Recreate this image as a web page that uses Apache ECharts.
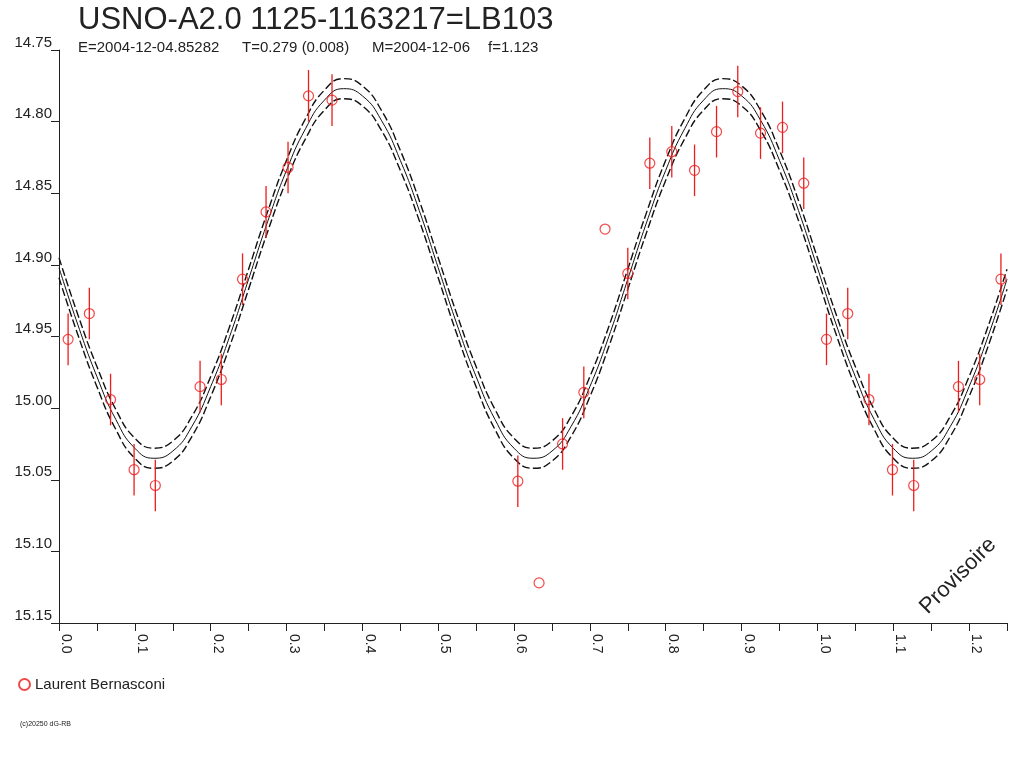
<!DOCTYPE html>
<html>
<head>
<meta charset="utf-8">
<title>USNO-A2.0 1125-1163217=LB103</title>
<script src="https://cdn.jsdelivr.net/npm/echarts@6/dist/echarts.min.js"></script>
<style>
  html, body { margin: 0; padding: 0; background: #fff; }
  #chart { width: 1024px; height: 768px; }
</style>
</head>
<body>
<div id="chart"></div>
<script>
const obsPhase = [0.012, 0.040, 0.068, 0.099, 0.127, 0.186, 0.214, 0.242, 0.273, 0.302, 0.329, 0.360,
                  0.605, 0.633, 0.664, 0.692, 0.720, 0.750, 0.779, 0.808, 0.838, 0.867, 0.895, 0.925, 0.954, 0.982]
const obsMag = [14.952, 14.934, 14.994, 15.043, 15.054, 14.985, 14.980, 14.910, 14.863, 14.832, 14.782, 14.785,
                15.051, 15.122, 15.025, 14.989, 14.875, 14.906, 14.829, 14.821, 14.834, 14.807, 14.779, 14.808, 14.804, 14.843]
const obsErr = [0.018, 0.018, 0.018, 0.018, 0.018, 0.018, 0.018, 0.018, 0.018, 0.018, 0.018, 0.018,
                0.018, 0, 0.018, 0.018, 0, 0.018, 0.018, 0.018, 0.018, 0.018, 0.018, 0.018, 0.018, 0.018]

// fitted curve, sampled every 0.025 in phase from 0 to 1.25
const fitStep = 0.025
const fitMid = [14.902, 14.942, 14.978, 15.008, 15.028, 15.035, 15.030, 15.013, 14.985, 14.950,
                14.910, 14.870, 14.834, 14.805, 14.785, 14.777, 14.782, 14.799, 14.827, 14.862,
                14.902, 14.942, 14.978, 15.008, 15.028, 15.035, 15.030, 15.013, 14.985, 14.950,
                14.910, 14.870, 14.834, 14.805, 14.785, 14.777, 14.782, 14.799, 14.827, 14.862,
                14.902, 14.942, 14.978, 15.008, 15.028, 15.035, 15.030, 15.013, 14.985, 14.950, 14.910]
const fitUpper = [14.895, 14.935, 14.971, 15.001, 15.021, 15.028, 15.023, 15.006, 14.978, 14.943,
                  14.903, 14.863, 14.827, 14.798, 14.778, 14.770, 14.775, 14.792, 14.820, 14.855,
                  14.895, 14.935, 14.971, 15.001, 15.021, 15.028, 15.023, 15.006, 14.978, 14.943,
                  14.903, 14.863, 14.827, 14.798, 14.778, 14.770, 14.775, 14.792, 14.820, 14.855,
                  14.895, 14.935, 14.971, 15.001, 15.021, 15.028, 15.023, 15.006, 14.978, 14.943, 14.903]
const fitLower = [14.909, 14.949, 14.985, 15.015, 15.035, 15.042, 15.037, 15.020, 14.992, 14.957,
                  14.917, 14.877, 14.841, 14.812, 14.792, 14.784, 14.789, 14.806, 14.834, 14.869,
                  14.909, 14.949, 14.985, 15.015, 15.035, 15.042, 15.037, 15.020, 14.992, 14.957,
                  14.917, 14.877, 14.841, 14.812, 14.792, 14.784, 14.789, 14.806, 14.834, 14.869,
                  14.909, 14.949, 14.985, 15.015, 15.035, 15.042, 15.037, 15.020, 14.992, 14.957, 14.917]

const observer = 'Laurent Bernasconi'
const red = '#ee1c1c'
const sans = '"Liberation Sans", Arial, sans-serif'

// folded data: phases below 0.25 are drawn again one cycle later
let points = []
obsPhase.forEach((p, i) => {
    points.push([p, obsMag[i], obsErr[i]])
    if (p + 1 <= 1.25) points.push([p + 1, obsMag[i], obsErr[i]])
})
const bars = points.filter(d => d[2] > 0)

const toLine = arr => arr.map((v, i) => [+(i * fitStep).toFixed(3), v])

let chart = echarts.init(document.getElementById('chart'), null, { renderer: 'canvas' })

const option = {
    animation: false,
    title: {
        text: 'USNO-A2.0 1125-1163217=LB103',
        left: 78,
        top: 5,
        padding: 0,
        textStyle: { fontFamily: sans, fontSize: 31, fontWeight: 'normal', color: '#222' }
    },
    legend: {
        left: 13,
        top: 672,
        itemWidth: 11,
        itemHeight: 11,
        data: [observer],
        textStyle: { fontFamily: sans, fontSize: 15, color: '#222' }
    },
    grid: { left: 59, right: 17, top: 50, bottom: 145 },
    xAxis: {
        type: 'value',
        min: 0,
        max: 1.25,
        interval: 0.05,
        splitLine: { show: false },
        axisLine: { lineStyle: { color: '#222', width: 1 } },
        axisTick: { length: 8, lineStyle: { color: '#222' } },
        axisLabel: {
            rotate: -90,
            margin: 11,
            verticalAlign: 'bottom',
            color: '#222',
            fontFamily: sans,
            fontSize: 14,
            formatter: v => (Math.round(v * 100) % 10 === 0 ? v.toFixed(1) : '')
        }
    },
    yAxis: {
        type: 'value',
        inverse: true,
        min: 14.75,
        max: 15.15,
        interval: 0.05,
        splitLine: { show: false },
        axisLine: { show: true, lineStyle: { color: '#222', width: 1 } },
        axisTick: { show: true, length: 8, lineStyle: { color: '#222' } },
        axisLabel: {
            margin: 7,
            verticalAlign: 'bottom',
            color: '#222',
            fontFamily: sans,
            fontSize: 15,
            formatter: v => v.toFixed(2)
        }
    },
    series: [
        {
            name: 'fit',
            type: 'line',
            smooth: true,
            showSymbol: false,
            data: toLine(fitMid),
            lineStyle: { color: '#111', width: 1 },
            z: 2
        },
        {
            name: 'fitUpper',
            type: 'line',
            smooth: true,
            showSymbol: false,
            data: toLine(fitUpper),
            lineStyle: { color: '#111', width: 1.4, type: [8, 3] },
            z: 2
        },
        {
            name: 'fitLower',
            type: 'line',
            smooth: true,
            showSymbol: false,
            data: toLine(fitLower),
            lineStyle: { color: '#111', width: 1.4, type: [8, 3] },
            z: 2
        },
        {
            name: 'errors',
            type: 'custom',
            data: bars,
            z: 3,
            renderItem: (params, api) => {
                const x = api.value(0)
                const m = api.value(1)
                const e = api.value(2)
                const p1 = api.coord([x, m - e])
                const p2 = api.coord([x, m + e])
                return {
                    type: 'line',
                    shape: { x1: p1[0], y1: p1[1], x2: p2[0], y2: p2[1] },
                    style: { stroke: red, lineWidth: 1.3 }
                }
            }
        },
        {
            name: observer,
            type: 'scatter',
            data: points,
            symbol: 'circle',
            symbolSize: 10,
            itemStyle: { color: 'rgba(255,255,255,0)', borderColor: red, borderWidth: 1.2 },
            z: 4
        }
    ],
    graphic: [
        { type: 'text', left: 78, top: 40, style: { text: 'E=2004-12-04.85282', font: '15px ' + sans, fill: '#222' } },
        { type: 'text', left: 242, top: 40, style: { text: 'T=0.279 (0.008)', font: '15px ' + sans, fill: '#222' } },
        { type: 'text', left: 372, top: 40, style: { text: 'M=2004-12-06', font: '15px ' + sans, fill: '#222' } },
        { type: 'text', left: 488, top: 40, style: { text: 'f=1.123', font: '15px ' + sans, fill: '#222' } },
        { type: 'text', left: 20, top: 721, style: { text: '(c)20250 dG-RB', font: '7px ' + sans, fill: '#222' } },
        {
            type: 'text',
            x: 958,
            y: 576,
            rotation: Math.PI / 4,
            style: { text: 'Provisoire', font: '22px ' + sans, fill: '#222', align: 'center', verticalAlign: 'middle' }
        }
    ]
}

chart.setOption(option)
</script>
</body>
</html>
